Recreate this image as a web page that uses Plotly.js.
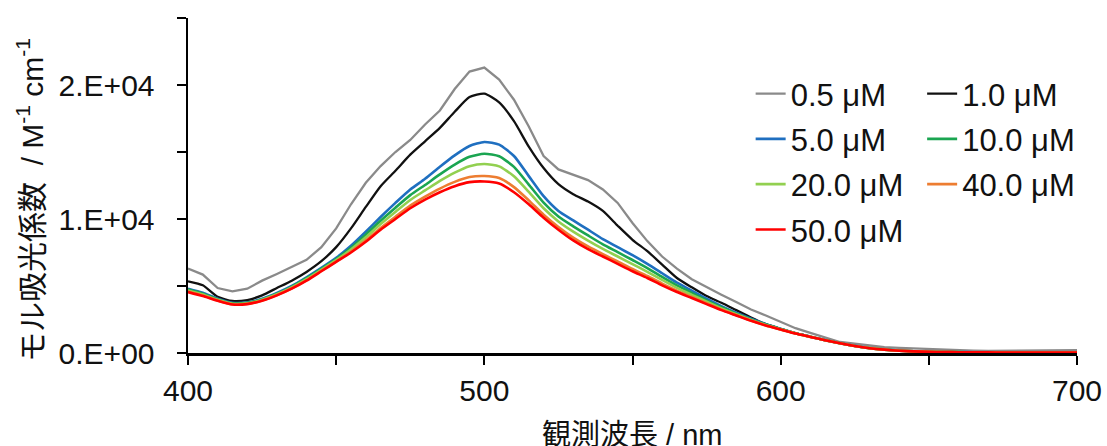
<!DOCTYPE html>
<html>
<head>
<meta charset="utf-8">
<script src="https://cdn.plot.ly/plotly-3.0.1.min.js"></script>
<style>html,body{margin:0;padding:0;background:#fff;}#chart{width:1107px;height:446px;}</style>
</head>
<body>
<div id="chart"></div>
<script>
const wavelength = [400,405,410,415,420,425,430,435,440,445,450,455,460,465,470,475,480,485,490,495,500,505,510,515,520,525,530,535,540,545,550,555,560,565,570,575,580,585,590,595,600,605,610,615,620,625,630,635,640,645,650,655,660,665,670,675,680,685,690,695,700];

const s0_5 = [6300,5850,4850,4600,4800,5400,5900,6450,6950,7900,9300,11100,12700,13950,15000,15900,17050,18100,19700,21000,21300,20400,18900,16900,14700,13700,13300,12900,12200,11200,9700,8350,7200,6300,5500,4900,4350,3800,3250,2800,2350,1850,1500,1150,820,700,550,430,380,330,280,230,200,180,160,170,150,190,210,200,220];
const s1_0 = [5350,5050,4200,3880,3950,4300,4850,5400,6050,6850,7900,9300,10900,12450,13600,14800,15800,16800,18000,19100,19350,18700,17300,15400,13800,12600,11850,11300,10600,9500,8450,7600,6600,5600,4900,4250,3750,3200,2650,2150,1800,1480,1220,960,730,530,370,260,180,130,100,80,70,60,55,50,45,45,40,40,40];
const s5_0 = [4800,4500,4050,3750,3780,4050,4480,5000,5650,6350,7100,8000,9050,10150,11200,12200,13000,13900,14750,15450,15750,15550,14700,13200,11700,10600,9900,9200,8500,7900,7300,6650,5950,5250,4650,4050,3500,3000,2550,2150,1800,1480,1220,960,730,530,370,260,180,130,100,80,70,60,55,50,45,45,40,40,40];
const s10_0 = [4730,4430,4000,3710,3740,4000,4430,4940,5580,6280,7010,7850,8830,9870,10840,11780,12540,13330,14060,14640,14870,14680,13890,12570,11220,10180,9450,8770,8110,7530,6940,6340,5680,5040,4490,3930,3410,2940,2510,2120,1790,1470,1210,955,725,525,365,255,175,125,95,75,65,55,50,45,42,40,38,35,35];
const s20_0 = [4660,4360,3970,3680,3710,3970,4380,4890,5510,6210,6930,7720,8630,9620,10530,11420,12130,12840,13460,13940,14100,13930,13190,12020,10800,9820,9060,8390,7770,7200,6630,6060,5450,4860,4340,3830,3330,2890,2470,2090,1770,1460,1205,952,722,522,362,252,172,122,92,72,62,52,47,42,41,37,36,32,32];
const s40_0 = [4590,4290,3920,3640,3670,3920,4330,4830,5440,6140,6840,7570,8410,9330,10170,11000,11670,12270,12770,13130,13210,13060,12380,11390,10320,9400,8610,7950,7380,6830,6270,5750,5180,4650,4180,3710,3240,2830,2420,2060,1760,1455,1202,951,721,521,361,251,171,121,91,71,61,51,46,41,40,36,35,31,31];
const s50_0 = [4550,4250,3900,3620,3650,3900,4300,4800,5400,6100,6800,7500,8300,9200,10000,10800,11450,12000,12450,12750,12800,12650,12000,11100,10100,9200,8400,7750,7200,6650,6100,5600,5050,4550,4100,3650,3200,2800,2400,2050,1750,1450,1200,950,720,520,360,250,170,120,90,70,60,50,45,40,40,35,35,30,30];

const seriesNames = ['0.5 μM','1.0 μM','5.0 μM','10.0 μM','20.0 μM','40.0 μM','50.0 μM'];
const seriesData = [s0_5, s1_0, s5_0, s10_0, s20_0, s40_0, s50_0];
const seriesColors = ['#8a8a8a','#111111','#1f6fc0','#1aa551','#92d050','#ed7d31','#ff0000'];
const seriesWidths = [2.3,2.3,2.6,2.6,2.6,2.6,2.6];
const seriesLegend = ['legend','legend2','legend','legend2','legend','legend2','legend'];

const xTickVals = [400,450,500,550,600,650,700];
const xTickText = ['400','','500','','600','','700'];
const yTickVals = [0,5000,10000,15000,20000,25000];
const yTickText = ['0.E+00','','1.E+04','','2.E+04',''];
const xTitle = '観測波長 / nm';
const yTitle = 'モル吸光係数  / M<sup>-1</sup> cm<sup>-1</sup>';

const traces = seriesData.map((d, i) => ({
  type: 'scatter', mode: 'lines',
  x: wavelength, y: d,
  name: seriesNames[i],
  legend: seriesLegend[i],
  legendgroup: 'g' + i,
  line: {color: seriesColors[i], width: seriesWidths[i], shape: i === 0 ? 'linear' : 'spline', smoothing: 0.6},
  hoverinfo: 'skip'
}));

const FONT = 'Liberation Sans, Arial, Noto Sans CJK JP, sans-serif';
const legendCommon = {
  orientation: 'v', xanchor: 'left', yanchor: 'top',
  bgcolor: 'rgba(0,0,0,0)', borderwidth: 0,
  font: {family: FONT, size: 31, color: '#111'},
  tracegroupgap: 2, itemwidth: 30
};

const layout = {
  width: 1107, height: 446,
  margin: {l: 188, r: 30, t: 18, b: 93, autoexpand: false},
  paper_bgcolor: '#fff', plot_bgcolor: '#fff',
  font: {family: FONT, size: 30, color: '#111'},
  showlegend: true,
  legend: Object.assign({x: 0.6329, y: 0.854}, legendCommon),
  legend2: Object.assign({x: 0.8258, y: 0.854}, legendCommon),
  xaxis: {
    range: [400, 700], tickvals: xTickVals, ticktext: xTickText,
    showline: true, linecolor: '#000', linewidth: 2.5,
    ticks: 'outside', ticklen: 9, tickwidth: 2, tickcolor: '#000',
    showgrid: false, zeroline: false, ticklabelstandoff: 0,
    tickfont: {family: FONT, size: 30, color: '#111'}
  },
  yaxis: {
    range: [0, 25000], tickvals: yTickVals, ticktext: yTickText,
    showline: true, linecolor: '#000', linewidth: 2.5,
    ticks: 'outside', ticklen: 9, tickwidth: 2, tickcolor: '#000',
    showgrid: false, zeroline: false, ticklabelstandoff: 16,
    tickfont: {family: FONT, size: 30, color: '#111'}
  },
  annotations: [
    {text: xTitle, xref: 'paper', yref: 'paper', x: 0.4994, y: -0.245, xanchor: 'center', yanchor: 'middle',
     showarrow: false, font: {family: FONT, size: 29, color: '#111'}},
    {text: yTitle, xref: 'paper', yref: 'paper', x: -0.1777, y: 0.4567, xanchor: 'center', yanchor: 'middle',
     textangle: -90, showarrow: false, font: {family: FONT, size: 30, color: '#111'}}
  ]
};

Plotly.newPlot('chart', traces, layout, {staticPlot: true, displayModeBar: false});
</script>
</body>
</html>
